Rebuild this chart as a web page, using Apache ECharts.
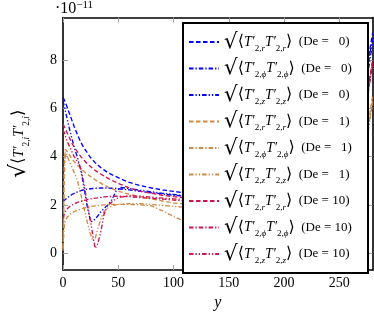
<!DOCTYPE html>
<html><head><meta charset="utf-8">
<script src="https://cdn.jsdelivr.net/npm/echarts@6/dist/echarts.min.js"></script>
<style>html,body{margin:0;padding:0;background:#fff}#c{width:374px;height:316px}</style>
</head><body><div id="c"></div>
<script>
// wall-normal coordinate y
const yPos = [0,1,2,4,6,8,10,13,16,19,22,25,27,29,31,34,37,40,44,48,52,60,70,80,90,100,110,130,160,200,240,265,272,276,280];
// values in units of 1e-11
const rDe0   = [6.45,6.35,6.25,6.0,5.75,5.5,5.25,4.9,4.6,4.35,4.15,3.95,3.85,3.75,3.67,3.55,3.45,3.35,3.25,3.17,3.08,2.93,2.8,2.7,2.62,2.56,2.5,2.45,2.4,2.4,2.5,3.0,5.0,8.0,9.1];
const phiDe0 = [2.14,2.18,2.22,2.3,2.37,2.43,2.48,2.54,2.59,2.63,2.65,2.67,2.68,2.69,2.69,2.7,2.7,2.7,2.69,2.68,2.66,2.62,2.56,2.5,2.45,2.4,2.36,2.3,2.28,2.3,2.4,2.9,4.8,7.8,8.9];
const zDe0   = [6.3,6.1,5.9,5.5,5.1,4.75,4.4,3.95,3.45,2.7,1.9,1.3,1.32,1.42,1.52,1.7,1.85,1.98,2.2,2.58,2.72,2.68,2.6,2.54,2.48,2.43,2.38,2.32,2.3,2.3,2.42,2.95,4.6,7.5,8.7];
const rDe1   = [0.2,3.6,4.3,4.2,4.05,3.9,3.8,3.65,3.5,3.38,3.27,3.17,3.1,3.04,2.98,2.9,2.82,2.76,2.68,2.6,2.54,2.44,2.34,2.25,2.16,2.08,2.04,2.0,1.97,1.97,2.05,2.4,3.5,5.3,6.5];
const phiDe1 = [0.2,1.1,1.35,1.5,1.6,1.67,1.72,1.78,1.83,1.87,1.9,1.93,1.95,1.96,1.97,1.99,2.0,2.01,2.02,2.02,2.02,2.02,2.0,1.96,1.75,1.52,1.32,1.1,1.0,1.0,1.2,1.8,3.0,5.2,6.2];
const zDe1   = [0.1,3.0,4.2,4.0,3.75,3.55,3.35,3.0,2.45,1.85,1.25,0.75,0.5,0.6,0.95,1.4,1.72,1.86,1.95,2.0,2.03,2.05,2.05,2.02,1.98,1.94,1.9,1.83,1.78,1.78,1.85,2.2,3.2,5.0,6.3];
const rDe10  = [5.35,5.25,5.15,4.95,4.75,4.55,4.4,4.2,4.0,3.85,3.7,3.58,3.5,3.43,3.37,3.28,3.2,3.12,3.02,2.93,2.85,2.7,2.57,2.48,2.4,2.34,2.3,2.25,2.2,2.2,2.3,2.7,4.2,6.8,8.0];
const phiDe10= [1.45,1.6,1.72,1.85,1.93,1.99,2.04,2.1,2.15,2.19,2.22,2.25,2.27,2.28,2.29,2.31,2.33,2.34,2.35,2.36,2.36,2.34,2.3,2.27,2.24,2.2,2.17,2.12,2.1,2.1,2.2,2.6,4.0,6.6,7.8];
const zDe10  = [5.1,5.0,4.85,4.6,4.4,4.2,4.0,3.8,3.5,2.85,2.0,1.3,0.7,0.2,0.35,0.85,1.6,1.95,2.12,2.26,2.32,2.38,2.36,2.32,2.28,2.25,2.22,2.18,2.15,2.15,2.25,2.65,4.1,6.7,7.9];

const xTicks = [0,50,100,150,200,250];
const yTicks = [0,2,4,6,8];
const components = ['r','ϕ','z','r','ϕ','z','r','ϕ','z'];
const deValues = ['  0','  0','  0','  1','  1','  1','10','10','10'];
const seriesValues = [rDe0,phiDe0,zDe0,rDe1,phiDe1,zDe1,rDe10,phiDe10,zDe10];

const SERIF = "'Liberation Serif','DejaVu Serif',serif";
const BLUE = '#0000ff', ORANGE = '#d08a48', RED = '#cc1450';
const DASH = [4.5,2.5], DASHDOT = [4.5,2,1.3,2], DASHDOTDOT = [4.5,2,1.3,2,1.3,2];
const colors = [BLUE,BLUE,BLUE,ORANGE,ORANGE,ORANGE,RED,RED,RED];
const dashes = [DASH,DASHDOT,DASHDOTDOT,DASH,DASHDOT,DASHDOTDOT,DASH,DASHDOT,DASHDOTDOT];

function mathLabel(sub){
  return '{sq|√}{br|⟨}{m|T′}{sn|2,}{s|'+sub+'}{m|T′}{sn|2,}{s|'+sub+'}{br|⟩}';
}
function makeRich(k, l){
  return {
    sq:{fontFamily:'DejaVu Serif',fontSize:20*k,lineHeight:22*l,color:'#000',fontWeight:'normal'},
    br:{fontFamily:'DejaVu Sans',fontSize:15*k,lineHeight:16*l,color:'#000',fontWeight:'normal'},
    m:{fontFamily:SERIF,fontStyle:'italic',fontSize:13*k,lineHeight:14*l,color:'#000',fontWeight:'normal'},
    sn:{fontFamily:SERIF,fontSize:8.5*k,lineHeight:16*l,verticalAlign:'bottom',color:'#000',fontWeight:'normal'},
    s:{fontFamily:SERIF,fontStyle:'italic',fontSize:8.5*k,lineHeight:16*l,verticalAlign:'bottom',color:'#000',fontWeight:'normal'},
    de:{fontFamily:SERIF,fontSize:13,lineHeight:14,color:'#000',fontWeight:'normal'}
  };
}

const names = components.map((c,i)=>c+'|'+deValues[i]+'|'+i);
const series = seriesValues.map((vals,i)=>({
  name: names[i], type:'line', symbol:'none', showSymbol:false,
  data: yPos.map((x,j)=>[x, vals[j]]),
  lineStyle:{color:colors[i], width:1.35, type:dashes[i]},
  itemStyle:{color:colors[i]},
  z: 2
}));

const tickStyle = {show:true, inside:true, length:5, lineStyle:{color:'#a0a0a0', width:1}};
const lineStyle = {show:true, onZero:false, lineStyle:{color:'#000', width:1.6}};

const chart = echarts.init(document.getElementById('c'), null, {renderer:'canvas'});
chart.setOption({
  animation:false,
  backgroundColor:'#fff',
  title:{
    text:'{a|·10}{b|−11}', left:55, top:0, padding:0,
    textStyle:{fontWeight:'normal', rich:{
      a:{fontFamily:SERIF,fontSize:16,lineHeight:18,color:'#000',fontWeight:'normal'},
      b:{fontFamily:SERIF,fontSize:11,lineHeight:10,verticalAlign:'top',color:'#000',fontWeight:'normal'}
    }}
  },
  grid:{left:56, right:1.5, top:17.5, bottom:31.7},
  xAxis:[{
    type:'value', min:0, max:280, position:'bottom',
    name:'y', nameLocation:'middle', nameGap:11,
    nameTextStyle:{fontFamily:SERIF, fontStyle:'italic', fontSize:16, color:'#000'},
    axisLine:lineStyle,
    axisTick:Object.assign({customValues:xTicks}, tickStyle),
    axisLabel:{customValues:xTicks, fontFamily:SERIF, fontSize:14, color:'#000', margin:6},
    splitLine:{show:false}
  },{
    type:'value', min:0, max:280, position:'top',
    axisLine:lineStyle,
    axisTick:Object.assign({customValues:xTicks}, tickStyle),
    axisLabel:{show:false},
    splitLine:{show:false}
  }],
  yAxis:[{
    type:'value', min:-0.7, max:9.76, position:'left',
    name:mathLabel('i'), nameLocation:'middle', nameRotate:90, nameGap:32,
    nameTextStyle:{rich:makeRich(1.1, 1.1)},
    axisLine:lineStyle,
    axisTick:Object.assign({customValues:yTicks}, tickStyle),
    axisLabel:{customValues:yTicks, fontFamily:SERIF, fontSize:14, color:'#000', margin:6},
    splitLine:{show:false}
  },{
    type:'value', min:-0.7, max:9.76, position:'right',
    axisLine:lineStyle,
    axisTick:Object.assign({customValues:yTicks}, tickStyle),
    axisLabel:{show:false},
    splitLine:{show:false}
  }],
  legend:{
    orient:'vertical', left:183, top:23, padding:[8,5,8,5],
    itemWidth:30, itemHeight:12, itemGap:4.5,
    backgroundColor:'#fff', borderColor:'#000', borderWidth:2,
    selectedMode:false,
    itemStyle:{opacity:0},
    data:names,
    textStyle:{width:139, height:22, lineHeight:22, rich:makeRich(1.07, 1)},
    formatter:function(name){
      const p = name.split('|');
      return mathLabel(p[0]) + '{de|  (De = '+p[1]+')}';
    }
  },
  series:series
});
</script></body></html>
